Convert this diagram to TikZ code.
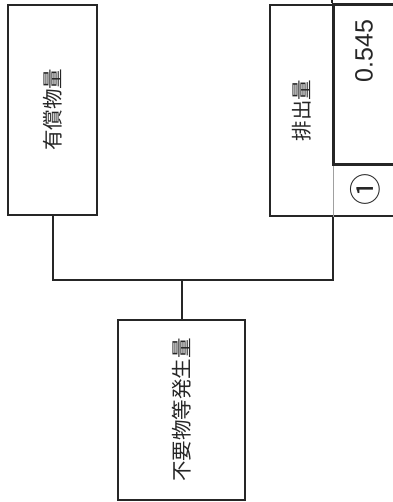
\documentclass[tikz,border=0pt]{standalone}
\usepackage{fontspec}
\newfontfamily\jpfont{Noto Sans CJK JP}
\newfontfamily\numfont{Liberation Sans}
\usepackage{xcolor}
\definecolor{inkgray}{HTML}{262626}
\definecolor{rulegray}{HTML}{A0A0A0}
\tikzset{
	ybox/.style={draw=inkgray, line width=2pt, inner sep=0pt, fill=white},
	jplabel/.style={rotate=90, text=inkgray, font=\jpfont\fontsize{20.5}{20.5}\selectfont}
}

\begin{document}
\begin{tikzpicture}[x=1pt,y=-1pt]
		\useasboundingbox (0,0) rectangle (392,502);
		
		
		\node (yushou) at (52.5,110) [ybox, minimum width=89pt, minimum height=210pt] {};
		\node (yushoutext) at (52.5,110) [jplabel] {有償物量};
		
		\node (outframe) at (333,110.5) [ybox, minimum width=126pt, minimum height=211pt] {};
		\node (haishutsu) at (301.5,110.5) [jplabel] {排出量};
		\draw[rulegray, line width=0.8pt] (outframe.north) -- (outframe.south);
		
		\node (valcell) at (364.5,85) [draw=inkgray, line width=3pt, minimum width=63pt, minimum height=160pt, inner sep=0pt] {};
		\draw[inkgray, line width=2pt] (valcell.north west) -- ++(0,-6);
		\node (val) at (364,51) [rotate=90, text=inkgray, font=\numfont\fontsize{25}{25}\selectfont] {0.545};
		\node (mark) at (365,190) [rotate=90, text=inkgray, font=\jpfont\fontsize{32}{32}\selectfont] {①};
		
		\node (fuyou) at (181.5,410) [ybox, minimum width=127pt, minimum height=180pt] {};
		\node (fuyoutext) at (181.5,410) [jplabel] {不要物等発生量};
		
		\coordinate (bus) at (192,280);
		\draw[inkgray, line width=2pt] (yushou.south) |- (bus) -| (outframe.south);
		\draw[inkgray, line width=2pt] (fuyou.north) -- (fuyou.north |- bus);
	\end{tikzpicture}
\end{document}
